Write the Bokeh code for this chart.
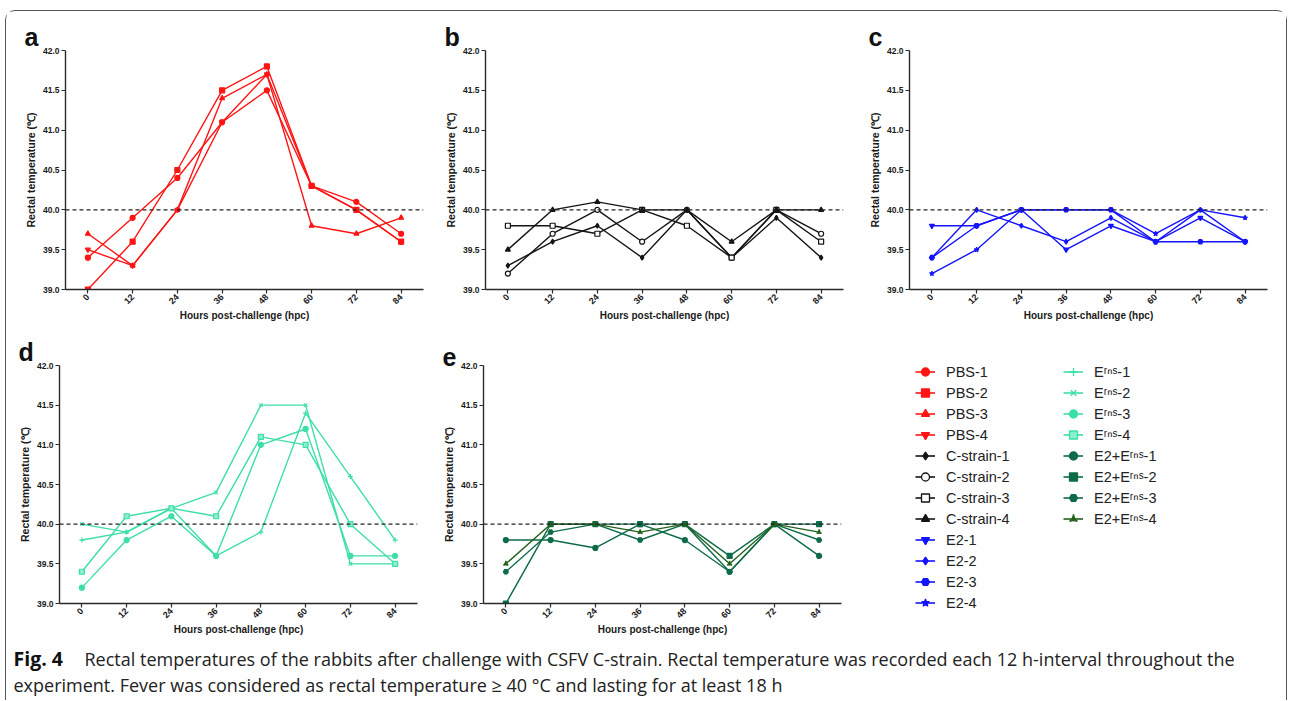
import math
from bokeh.plotting import figure
from bokeh.models import (Span, Label, Legend, LegendItem, FixedTicker, Range1d,
                          PrintfTickFormatter)
from bokeh.layouts import row, column
from bokeh.embed import file_html
from bokeh.resources import INLINE

# ---------------- data ----------------
hours = [0, 12, 24, 36, 48, 60, 72, 84]
x_tick_labels = ["0", "12", "24", "36", "48", "60", "72", "84"]
y_ticks = [39.0, 39.5, 40.0, 40.5, 41.0, 41.5, 42.0]
y_tick_labels = ["39.0", "39.5", "40.0", "40.5", "41.0", "41.5", "42.0"]
fever_threshold = 40.0

PBS_1 = [39.4, 39.9, 40.4, 41.1, 41.5, 40.3, 40.1, 39.7]
PBS_2 = [39.0, 39.6, 40.5, 41.5, 41.8, 40.3, 40.0, 39.6]
PBS_3 = [39.7, 39.3, 40.0, 41.4, 41.7, 39.8, 39.7, 39.9]
PBS_4 = [39.5, 39.3, 40.0, 41.1, 41.7, 40.3, 40.0, 39.6]

C_strain_1 = [39.3, 39.6, 39.8, 39.4, 40.0, 39.4, 39.9, 39.4]
C_strain_2 = [39.2, 39.7, 40.0, 39.6, 40.0, 39.4, 40.0, 39.7]
C_strain_3 = [39.8, 39.8, 39.7, 40.0, 39.8, 39.4, 40.0, 39.6]
C_strain_4 = [39.5, 40.0, 40.1, 40.0, 40.0, 39.6, 40.0, 40.0]

E2_1 = [39.8, 39.8, 40.0, 39.5, 39.8, 39.6, 39.9, 39.6]
E2_2 = [39.4, 40.0, 39.8, 39.6, 39.9, 39.6, 40.0, 39.6]
E2_3 = [39.4, 39.8, 40.0, 40.0, 40.0, 39.6, 39.6, 39.6]
E2_4 = [39.2, 39.5, 40.0, 40.0, 40.0, 39.7, 40.0, 39.9]

Erns_1 = [39.8, 39.9, 40.2, 39.6, 39.9, 41.4, 40.6, 39.8]
Erns_2 = [40.0, 39.9, 40.2, 40.4, 41.5, 41.5, 39.5, 39.5]
Erns_3 = [39.2, 39.8, 40.1, 39.6, 41.0, 41.2, 39.6, 39.6]
Erns_4 = [39.4, 40.1, 40.2, 40.1, 41.1, 41.0, 40.0, 39.5]

E2Erns_1 = [39.8, 39.8, 39.7, 40.0, 39.8, 39.4, 40.0, 39.6]
E2Erns_2 = [39.0, 40.0, 40.0, 40.0, 40.0, 39.6, 40.0, 40.0]
E2Erns_3 = [39.4, 39.9, 40.0, 39.8, 40.0, 39.4, 40.0, 39.8]
E2Erns_4 = [39.5, 40.0, 40.0, 39.9, 40.0, 39.5, 40.0, 39.9]

panel_letters = ["a", "b", "c", "d", "e"]
x_label = "Hours post-challenge (hpc)"
y_label = "Rectal temperature (\u2103)"
caption_bold = "Fig. 4"
caption_line1 = ("Rectal temperatures of the rabbits after challenge with CSFV C-strain. "
                 "Rectal temperature was recorded each 12 h-interval throughout the")
caption_line2 = ("experiment. Fever was considered as rectal temperature \u2265 40 \u00b0C "
                 "and lasting for at least 18 h")

RED = "#ff1414"
BLACK = "#151515"
BLUE = "#1414ff"
MINT = "#3ddfa5"
GREEN = "#0e6b47"
DKGREEN = "#22601c"
SUP = "\u02b3\u207f\u02e2"

# (label, values, color, marker, fill)
groups = [
    [("PBS-1", PBS_1, RED, "circle", RED),
     ("PBS-2", PBS_2, RED, "square", RED),
     ("PBS-3", PBS_3, RED, "triangle", RED),
     ("PBS-4", PBS_4, RED, "inverted_triangle", RED)],
    [("C-strain-1", C_strain_1, BLACK, "diamond", BLACK),
     ("C-strain-2", C_strain_2, BLACK, "circle", "white"),
     ("C-strain-3", C_strain_3, BLACK, "square", "white"),
     ("C-strain-4", C_strain_4, BLACK, "triangle", BLACK)],
    [("E2-1", E2_1, BLUE, "inverted_triangle", BLUE),
     ("E2-2", E2_2, BLUE, "diamond", BLUE),
     ("E2-3", E2_3, BLUE, "hex", BLUE),
     ("E2-4", E2_4, BLUE, "star", BLUE)],
    [("E" + SUP + "-1", Erns_1, MINT, "cross", MINT),
     ("E" + SUP + "-2", Erns_2, MINT, "x", MINT),
     ("E" + SUP + "-3", Erns_3, MINT, "circle", MINT),
     ("E" + SUP + "-4", Erns_4, MINT, "square", "#8cf0cc")],
    [("E2+E" + SUP + "-1", E2Erns_1, GREEN, "circle", GREEN),
     ("E2+E" + SUP + "-2", E2Erns_2, GREEN, "square", GREEN),
     ("E2+E" + SUP + "-3", E2Erns_3, GREEN, "hex", GREEN),
     ("E2+E" + SUP + "-4", E2Erns_4, DKGREEN, "triangle_pin", DKGREEN)],
]

FONT = "Liberation Sans"


def make_panel(idx, width, height, bl, br, bt, bb):
    p = figure(width=width, height=height, x_range=Range1d(-6, 90),
               y_range=Range1d(39, 42), output_backend="svg",
               toolbar_location=None, min_border_left=bl, min_border_right=br,
               min_border_top=bt, min_border_bottom=bb)
    p.xgrid.visible = False
    p.ygrid.visible = False
    p.outline_line_color = None

    p.title.text = panel_letters[idx]
    p.title.align = "left"
    p.title.offset = -41
    p.title.standoff = 0
    p.title.text_font = FONT
    p.title.text_font_style = "bold"
    p.title.text_font_size = "25px"
    p.title.text_color = "#111111"

    xa = p.xaxis[0]
    xa.ticker = FixedTicker(ticks=hours)
    xa.major_label_overrides = {h: t for h, t in zip(hours, x_tick_labels)}
    xa.major_label_orientation = math.pi / 4
    xa.axis_label = x_label
    ya = p.yaxis[0]
    ya.ticker = FixedTicker(ticks=y_ticks)
    ya.formatter = PrintfTickFormatter(format="%.1f")
    ya.major_label_overrides = {v: t for v, t in zip(y_ticks, y_tick_labels)}
    ya.axis_label = y_label
    for ax in (xa, ya):
        ax.minor_tick_line_color = None
        ax.major_tick_in = 0
        ax.major_tick_out = 4
        ax.axis_line_color = "#2a2a2a"
        ax.major_tick_line_color = "#2a2a2a"
        ax.axis_line_width = 1.4
        ax.major_tick_line_width = 1.2
        ax.major_label_text_font = FONT
        ax.major_label_text_font_style = "bold"
        ax.major_label_text_color = "#1a1a1a"
        ax.axis_label_text_font = FONT
        ax.axis_label_text_font_style = "bold"
        ax.axis_label_text_color = "#1a1a1a"
        ax.major_label_standoff = 2
    xa.axis_label_text_font_size = "10px"
    ya.axis_label_text_font_size = "10.5px"
    xa.major_label_text_font_size = "9px"
    ya.major_label_text_font_size = "8.5px"
    xa.axis_label_standoff = 0
    ya.axis_label_standoff = 3

    p.add_layout(Span(location=fever_threshold, dimension="width",
                      line_color="#222222", line_dash="4 3", line_width=1.3))
    for name, vals, col, mk, fill in groups[idx]:
        p.line(hours, vals, line_color=col, line_width=1.4)
        p.scatter(hours, vals, marker=mk, size=5, line_color=col,
                  fill_color=fill, line_width=1.2)
    return p


pa = make_panel(0, 424, 319, 59, 7, 39, 41)
pb = make_panel(1, 430, 319, 55, 17, 39, 41)
pc = make_panel(2, 426, 319, 49, 19, 39, 41)
pd = make_panel(3, 424, 310, 53, 13, 35, 37)
pe = make_panel(4, 430, 310, 53, 19, 35, 37)


# ---------------- legend panels ----------------
def make_legend_fig(width, bl, bt, grps):
    pl = figure(width=width, height=310, x_range=Range1d(1000, 1001),
                y_range=Range1d(0, 1), output_backend="svg", toolbar_location=None,
                x_axis_location=None, y_axis_location=None,
                min_border_left=bl, min_border_top=bt, min_border_right=0,
                min_border_bottom=0, frame_align=False)
    pl.grid.visible = False
    pl.outline_line_color = None
    items = []
    for grp in grps:
        for name, vals, col, mk, fill in grp:
            lr = pl.line(hours, vals, line_color=col, line_width=1.6)
            sr = pl.scatter(hours, vals, marker=mk, size=6, line_color=col,
                            fill_color=fill, line_width=1.3)
            items.append(LegendItem(label=name, renderers=[lr, sr]))
    pl.add_layout(Legend(items=items, location="top_left", orientation="vertical",
                         glyph_width=20, glyph_height=21, label_height=21, spacing=0,
                         label_standoff=11, padding=0, margin=0,
                         border_line_color=None, background_fill_alpha=0,
                         label_text_font=FONT, label_text_font_size="14.5px",
                         label_text_color="#222222"))
    return pl


pl1 = make_legend_fig(203, 55, 31, groups[:3])
pl2 = make_legend_fig(223, 0, 31, groups[3:])

# ---------------- caption ----------------
pcap = figure(width=1280, height=60, x_range=Range1d(0, 1), y_range=Range1d(0, 1),
              output_backend="svg", toolbar_location=None,
              x_axis_location=None, y_axis_location=None, min_border=0,
              frame_align=False)
pcap.grid.visible = False
pcap.outline_line_color = None
CAPFONT = "Open Sans"
CAPSIZE = "18px"
pcap.add_layout(Label(x=7, y=42, x_units="screen", y_units="screen", text=caption_bold,
                      text_font=CAPFONT, text_font_style="bold", text_font_size="19.5px",
                      text_color="#111111", text_baseline="middle"))
pcap.add_layout(Label(x=78, y=42, x_units="screen", y_units="screen", text=caption_line1,
                      text_font=CAPFONT, text_font_size=CAPSIZE,
                      text_color="#222222", text_baseline="middle"))
pcap.add_layout(Label(x=7, y=16, x_units="screen", y_units="screen", text=caption_line2,
                      text_font=CAPFONT, text_font_size=CAPSIZE,
                      text_color="#222222", text_baseline="middle"))

layout = column(row(pa, pb, pc), row(pd, pe, pl1, pl2), pcap,
                margin=(10, 0, 0, 5),
                styles={"border-top": "1px solid #555555",
                        "border-left": "1px solid #555555",
                        "border-right": "1px solid #555555",
                        "border-top-left-radius": "10px",
                        "border-top-right-radius": "10px"})

open("out.html", "w").write(file_html(layout, INLINE))
